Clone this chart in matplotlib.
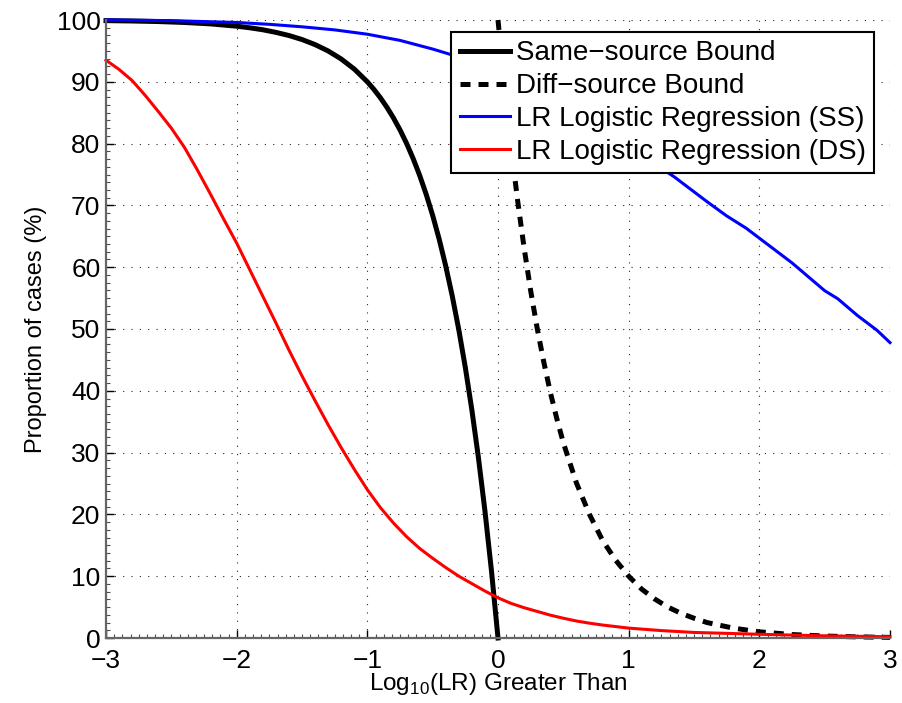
import matplotlib
matplotlib.use('Agg')
import matplotlib.pyplot as plt
from matplotlib.ticker import MultipleLocator, AutoMinorLocator

plt.rcParams['font.family'] = ['Liberation Sans', 'DejaVu Sans']

# same-source bound
ss_bound_x = [-3.0, -2.8, -2.6, -2.4, -2.2, -2.0, -1.9, -1.8, -1.7, -1.6, -1.5, -1.4,
              -1.3, -1.2, -1.1, -1.0, -0.95, -0.9, -0.85, -0.8, -0.75, -0.7, -0.65,
              -0.6, -0.55, -0.5, -0.45, -0.4, -0.35, -0.3, -0.25, -0.2, -0.15, -0.1,
              -0.05, 0.0]
ss_bound_y = [99.90, 99.84, 99.75, 99.60, 99.37, 99.00, 98.74, 98.42, 98.00, 97.49,
              96.84, 96.02, 94.99, 93.69, 92.06, 90.00, 88.78, 87.41, 85.87, 84.15,
              82.22, 80.05, 77.61, 74.88, 71.82, 68.38, 64.52, 60.19, 55.33, 49.88,
              43.77, 36.90, 29.21, 20.57, 10.87, 0.0]

# diff-source bound
ds_bound_x = [0.0, 0.05, 0.1, 0.15, 0.2, 0.25, 0.3, 0.35, 0.4, 0.45, 0.5, 0.6, 0.7,
              0.8, 0.9, 1.0, 1.1, 1.2, 1.3, 1.4, 1.5, 1.6, 1.8, 2.0, 2.25, 2.5, 2.75, 3.0]
ds_bound_y = [100.0, 89.1, 79.4, 70.8, 63.1, 56.2, 50.1, 44.7, 39.8, 35.5, 31.6, 25.1,
              20.0, 15.8, 12.6, 10.0, 7.9, 6.3, 5.0, 4.0, 3.2, 2.5, 1.6, 1.0, 0.56,
              0.32, 0.18, 0.1]

# logistic regression, same-source cases
lr_ss_x = [-3.0, -2.5, -2.0, -1.75, -1.5, -1.25, -1.0, -0.75, -0.5, -0.25, 0.0, 0.25,
           0.5, 0.75, 1.0, 1.25, 1.35, 1.5, 1.6, 1.75, 1.9, 2.0, 2.15, 2.25, 2.4,
           2.5, 2.6, 2.75, 2.9, 3.0]
lr_ss_y = [100.0, 99.9, 99.6, 99.3, 98.9, 98.4, 97.7, 96.7, 95.3, 93.7, 91.8, 89.5,
           86.8, 83.5, 79.8, 76.0, 74.6, 72.2, 70.6, 68.3, 66.3, 64.7, 62.3, 60.7,
           58.0, 56.2, 54.9, 52.2, 49.8, 47.8]

# logistic regression, different-source cases
lr_ds_x = [-3.0, -2.9, -2.8, -2.75, -2.7, -2.6, -2.5, -2.4, -2.3, -2.2, -2.1, -2.0,
           -1.9, -1.8, -1.7, -1.6, -1.5, -1.4, -1.3, -1.2, -1.1, -1.0, -0.9, -0.8,
           -0.7, -0.6, -0.5, -0.4, -0.3, -0.2, -0.1, 0.0, 0.1, 0.2, 0.3, 0.4, 0.5,
           0.6, 0.7, 0.8, 0.9, 1.0, 1.25, 1.5, 1.75, 2.0, 2.5, 3.0]
lr_ds_y = [93.5, 92.0, 90.2, 89.0, 87.8, 85.2, 82.5, 79.4, 75.7, 71.8, 67.8, 63.9,
           59.6, 55.3, 51.0, 46.6, 42.4, 38.4, 34.5, 30.8, 27.3, 24.0, 21.1, 18.6,
           16.4, 14.5, 12.9, 11.4, 10.0, 8.8, 7.6, 6.5, 5.6, 4.9, 4.3, 3.7, 3.2,
           2.75, 2.4, 2.1, 1.85, 1.6, 1.2, 0.9, 0.75, 0.6, 0.35, 0.2]

fig = plt.figure(figsize=(9.02, 7.03), dpi=100)
ax = fig.add_axes([106 / 902, 65 / 703, 784 / 902, 618 / 703])

ax.plot(ss_bound_x, ss_bound_y, color='black', lw=3.6, label='Same\u2212source Bound', clip_on=False)
ax.plot(ds_bound_x, ds_bound_y, color='black', lw=3.6, dashes=(2, 1.6),
        label='Diff\u2212source Bound', clip_on=False)
ax.plot(lr_ss_x, lr_ss_y, color='#0000ff', lw=2.2, label='LR Logistic Regression (SS)', clip_on=False)
ax.plot(lr_ds_x, lr_ds_y, color='#ff0000', lw=2.2, label='LR Logistic Regression (DS)', clip_on=False)

ax.set_xlim(-3, 3)
ax.set_ylim(0, 100)
ax.xaxis.set_major_locator(MultipleLocator(1))
ax.yaxis.set_major_locator(MultipleLocator(10))
ax.xaxis.set_minor_locator(AutoMinorLocator(16))
ax.yaxis.set_minor_locator(AutoMinorLocator(8))

ax.grid(True, which='major', color='0.15', lw=0.8, linestyle=(0, (1, 6.5)))
for side in ['top', 'right']:
    ax.spines[side].set_visible(False)
for side in ['left', 'bottom']:
    ax.spines[side].set_color('0.4')
    ax.spines[side].set_linewidth(1.6)

ax.tick_params(which='major', direction='in', length=6, width=1, labelsize=19, color='black')
ax.tick_params(which='minor', direction='in', length=3, width=0.8, color='0.3')
ax.tick_params(axis='x', pad=8)
ax.tick_params(axis='y', pad=4)

ax.set_xlabel(r'Log$_{\mathregular{10}}$(LR) Greater Than', fontsize=17.5)
ax.set_ylabel('Proportion of cases (%)', fontsize=17)
ax.xaxis.set_label_coords(0.5, -(671 - 638) / 618)
ax.yaxis.set_label_coords((47 - 106) / 784, 0.5)

leg = ax.legend(loc='upper right', bbox_to_anchor=(0.9796, 0.9806), borderaxespad=0,
                fontsize=20, handlelength=1.8, handletextpad=0.22, labelspacing=0.25,
                borderpad=0.3, fancybox=False, framealpha=1, edgecolor='black')
leg.get_frame().set_linewidth(1.5)

fig.savefig('out.png', dpi=100)
